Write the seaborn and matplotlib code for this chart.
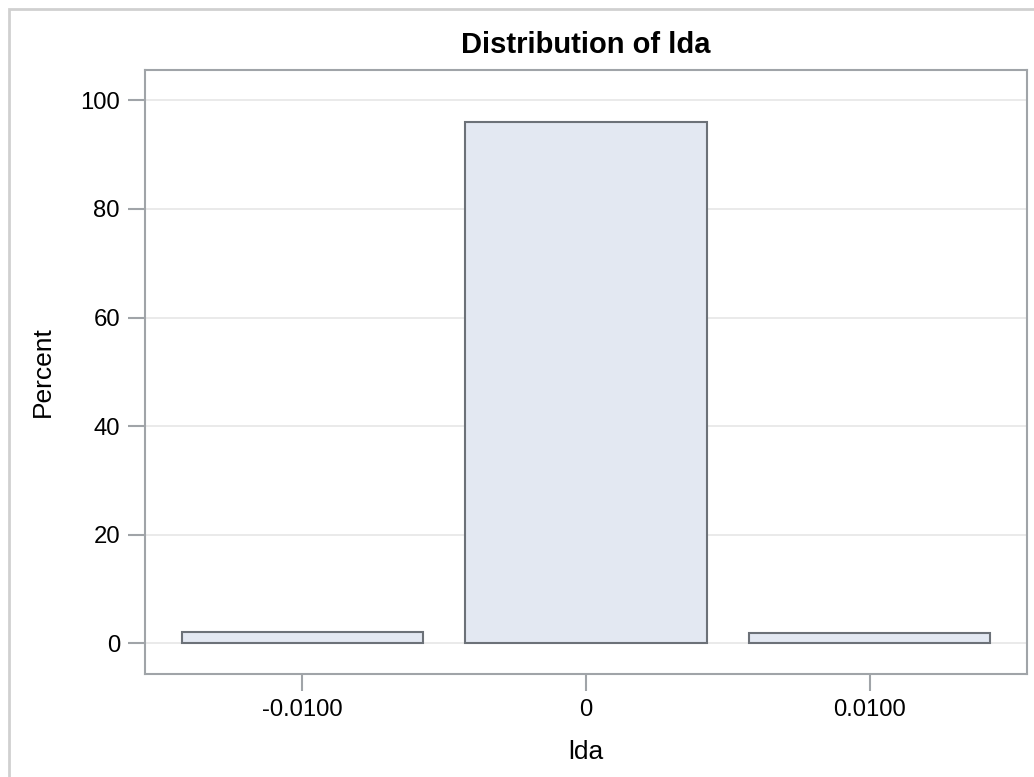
import matplotlib
matplotlib.use("Agg")
import matplotlib.pyplot as plt
import seaborn as sns
import pandas as pd
from matplotlib.patches import Rectangle

# Data
bin_centers = [-0.01, 0.0, 0.01]
percents = [2.1, 96.0, 1.9]
x_tick_values = [-0.01, 0.0, 0.01]
x_tick_labels = ["-0.0100", "0", "0.0100"]
y_tick_values = [0, 20, 40, 60, 80, 100]
title_text = "Distribution of lda"
x_label = "lda"
y_label = "Percent"

sns.set_theme(style="white")
plt.rcParams['font.family'] = ['Liberation Sans', 'DejaVu Sans']

W, H, DPI = 1034, 777, 100
fig = plt.figure(figsize=(W / DPI, H / DPI), dpi=DPI)
ax = fig.add_axes([145 / W, 1 - 674 / H, (1027 - 145) / W, (674 - 70) / H])

df = pd.DataFrame({"x": bin_centers, "pct": percents})
sns.barplot(data=df, x="x", y="pct", native_scale=True, width=0.85,
            color="#E3E8F2", saturation=1, edgecolor="#6C7178",
            linewidth=1.5, ax=ax, zorder=3)

ax.set_xlim(-0.01555, 0.01555)
ax.set_ylim(-5.66, 105.6)
ax.set_xticks(x_tick_values)
ax.set_xticklabels(x_tick_labels)
ax.set_yticks(y_tick_values)
ax.yaxis.grid(True, color="#E6E6E6", linewidth=1.2, zorder=0)
ax.xaxis.grid(False)
ax.set_axisbelow(True)

for s in ax.spines.values():
    s.set_color("#A0A4A8")
    s.set_linewidth(1.5)
    s.set_visible(True)

ax.tick_params(axis="both", which="major", length=12, width=1.5,
               color="#A0A4A8", labelsize=17.2, labelcolor="black",
               direction="out", pad=6)
ax.tick_params(axis="both", bottom=True, left=True)

ax.set_xlabel(x_label, fontsize=19, color="black", labelpad=14)
ax.set_ylabel(y_label, fontsize=19, color="black", labelpad=18)
ax.set_title(title_text, fontsize=21, fontweight="bold", color="black", pad=12)

# outer frame of the graph
fig.patches.append(Rectangle((9 / W, -0.01), 1.1, 1 - 9 / H + 0.01,
                             transform=fig.transFigure, fill=False,
                             edgecolor="#D0D0D0", linewidth=2, zorder=0))

fig.savefig("out.png", dpi=DPI, facecolor="white")
